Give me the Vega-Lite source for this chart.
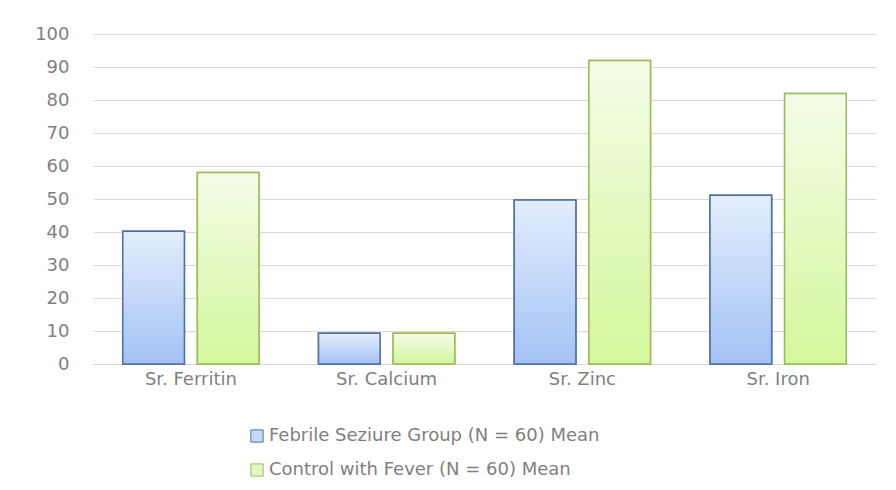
{
  "$schema": "https://vega.github.io/schema/vega-lite/v6.json",
  "width": 783,
  "height": 330,
  "autosize": "none",
  "padding": {"left": 93, "top": 34, "right": 20, "bottom": 126},
  "background": "white",
  "config": {
    "view": {"stroke": null},
    "font": "DejaVu Sans",
    "axis": {"labelFont": "DejaVu Sans", "labelColor": "#7f7f7f", "gridColor": "#d9d9d9", "domainColor": "#d9d9d9"}
  },
  "data": {
    "values": [
      {"test": "Sr. Ferritin", "group": "Febrile Seziure Group (N = 60) Mean", "value": 40.2},
      {"test": "Sr. Ferritin", "group": "Control with Fever (N = 60) Mean", "value": 58},
      {"test": "Sr. Calcium", "group": "Febrile Seziure Group (N = 60) Mean", "value": 9.3},
      {"test": "Sr. Calcium", "group": "Control with Fever (N = 60) Mean", "value": 9.3},
      {"test": "Sr. Zinc", "group": "Febrile Seziure Group (N = 60) Mean", "value": 49.7},
      {"test": "Sr. Zinc", "group": "Control with Fever (N = 60) Mean", "value": 92},
      {"test": "Sr. Iron", "group": "Febrile Seziure Group (N = 60) Mean", "value": 51.1},
      {"test": "Sr. Iron", "group": "Control with Fever (N = 60) Mean", "value": 82}
    ]
  },
  "encoding": {
    "x": {
      "field": "test", "type": "nominal",
      "sort": ["Sr. Ferritin", "Sr. Calcium", "Sr. Zinc", "Sr. Iron"],
      "scale": {"paddingInner": 0.304, "paddingOuter": 0.152},
      "axis": {"title": null, "labelAngle": 0, "ticks": false, "labelFontSize": 18, "labelPadding": 6, "domainColor": "#d9d9d9"}
    },
    "xOffset": {
      "field": "group", "type": "nominal",
      "sort": ["Febrile Seziure Group (N = 60) Mean", "Control with Fever (N = 60) Mean"],
      "scale": {"domain": ["Febrile Seziure Group (N = 60) Mean", "Control with Fever (N = 60) Mean"], "paddingInner": 0.174, "paddingOuter": 0}
    },
    "y": {
      "field": "value", "type": "quantitative",
      "scale": {"domain": [0, 100], "nice": false},
      "axis": {"title": null, "values": [0,10,20,30,40,50,60,70,80,90,100], "domain": false, "ticks": false, "labelFontSize": 18, "labelPadding": 24}
    },
    "stroke": {
      "field": "group", "type": "nominal",
      "scale": {"domain": ["Febrile Seziure Group (N = 60) Mean", "Control with Fever (N = 60) Mean"], "range": ["#4f6fa3", "#9bbb59"]},
      "legend": {
        "title": null,
        "orient": "none",
        "legendX": 155,
        "legendY": 393,
        "direction": "vertical",
        "symbolType": "square",
        "symbolSize": 150,
        "symbolStrokeWidth": 1,
        "labelFontSize": 18,
        "labelColor": "#7f7f7f",
        "labelFont": "DejaVu Sans",
        "labelOffset": 3,
        "rowPadding": 16,
        "labelLimit": 700
      }
    }
  },
  "layer": [
    {
      "mark": {"type": "bar", "strokeWidth": 1.5},
      "encoding": {
        "fill": {
          "field": "group", "type": "nominal",
          "scale": {"domain": ["Febrile Seziure Group (N = 60) Mean", "Control with Fever (N = 60) Mean"], "range": ["#c6d9f9", "#e3f8c0"]},
          "legend": {
            "title": null,
            "orient": "none",
            "legendX": 155,
            "legendY": 393,
            "direction": "vertical",
            "symbolType": "square",
            "symbolSize": 150,
            "symbolStrokeWidth": 1,
            "labelFontSize": 18,
            "labelColor": "#7f7f7f",
            "labelFont": "DejaVu Sans",
            "labelOffset": 3,
            "rowPadding": 16,
            "labelLimit": 700
          }
        }
      }
    },
    {
      "transform": [{"filter": "indexof(datum.group, 'Febrile') >= 0"}],
      "mark": {
        "type": "bar", "strokeWidth": 1.5,
        "fill": {"gradient": "linear", "x1": 0, "y1": 0, "x2": 0, "y2": 1, "stops": [{"offset": 0, "color": "#e3edfc"}, {"offset": 1, "color": "#a3c2f5"}]}
      }
    },
    {
      "transform": [{"filter": "indexof(datum.group, 'Control') >= 0"}],
      "mark": {
        "type": "bar", "strokeWidth": 1.5,
        "fill": {"gradient": "linear", "x1": 0, "y1": 0, "x2": 0, "y2": 1, "stops": [{"offset": 0, "color": "#f3fce7"}, {"offset": 1, "color": "#d4f79c"}]}
      }
    }
  ]
}
